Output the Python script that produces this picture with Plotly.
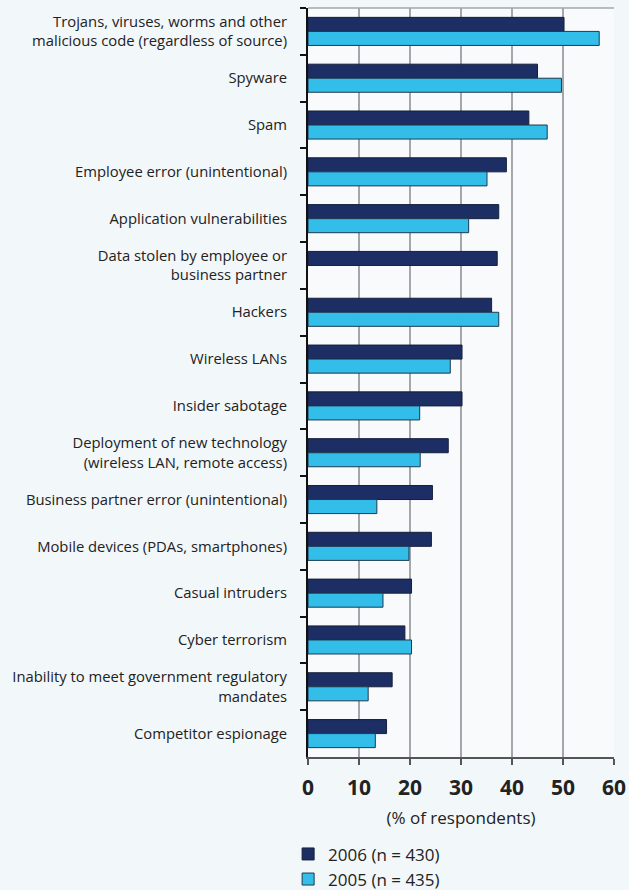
import plotly.graph_objects as go

categories = [
    "Trojans, viruses, worms and other<br>malicious code (regardless of source)",
    "Spyware",
    "Spam",
    "Employee error (unintentional)",
    "Application vulnerabilities",
    "Data stolen by employee or<br>business partner",
    "Hackers",
    "Wireless LANs",
    "Insider sabotage",
    "Deployment of new technology<br>(wireless LAN, remote access)",
    "Business partner error (unintentional)",
    "Mobile devices (PDAs, smartphones)",
    "Casual intruders",
    "Cyber terrorism",
    "Inability to meet government regulatory<br>mandates",
    "Competitor espionage",
]
values_2006 = [50.2, 45.0, 43.3, 38.9, 37.4, 37.1, 36.0, 30.2, 30.2, 27.5, 24.4, 24.2, 20.3, 19.0, 16.5, 15.4]
values_2005 = [57.1, 49.7, 46.9, 35.1, 31.5, None, 37.4, 27.9, 21.9, 22.0, 13.5, 19.8, 14.7, 20.3, 11.8, 13.2]
series_names = ["2006 (n = 430)", "2005 (n = 435)"]
x_ticks = [0, 10, 20, 30, 40, 50, 60]

DARK = "#1C2E64"
LIGHT = "#33BDE9"
FONT = "Open Sans"

fig = go.Figure()
fig.add_trace(go.Bar(
    y=categories, x=values_2006, orientation="h", name=series_names[0],
    marker=dict(color=DARK, line=dict(color="#15203A", width=1)),
))
fig.add_trace(go.Bar(
    y=categories, x=values_2005, orientation="h", name=series_names[1],
    marker=dict(color=LIGHT, line=dict(color="#1E3A50", width=1)),
))

fig.update_layout(
    width=629, height=890,
    margin=dict(l=308, r=15, t=8, b=133, autoexpand=False),
    paper_bgcolor="#F2F7FA",
    plot_bgcolor="#F8FAFC",
    barmode="group",
    bargap=0.4,
    bargroupgap=0,
    font=dict(family=FONT, color="#222222", size=14.8),
    showlegend=True,
    legend=dict(
        x=-0.065, xanchor="left", y=-0.106, yanchor="top",
        orientation="v", bgcolor="rgba(0,0,0,0)",
        font=dict(family=FONT, size=17, color="#222222"),
        tracegroupgap=0,
    ),
)

fig.update_xaxes(
    range=[0, 60], tickvals=x_ticks, automargin=False,
    showgrid=True, gridcolor="#A3A7AB", gridwidth=1.5,
    showline=True, linecolor="#555555", linewidth=1.5, mirror=False,
    ticks="outside", ticklen=6, tickcolor="#555555", tickwidth=1.5,
    tickfont=dict(family=FONT, size=21, color="#222222", weight="bold"),
    ticklabelstandoff=5,
    title=dict(text="(% of respondents)", font=dict(family=FONT, size=17, color="#222222"), standoff=12),
    zeroline=False,
)
fig.update_yaxes(
    type="category", autorange="reversed", automargin=False,
    showline=True, linecolor="#111111", linewidth=2,
    ticks="outside", tickson="boundaries", ticklen=6, tickcolor="#111111", tickwidth=1.5,
    ticklabelstandoff=16,
    tickfont=dict(family=FONT, size=14.8, color="#222222"),
    showgrid=False,
)

# top border of the plot area
fig.add_shape(type="line", xref="paper", yref="paper", x0=0, x1=1, y0=1, y1=1,
              line=dict(color="#A3A7AB", width=1.5))

fig.write_html(
    "out.html",
    config={"displayModeBar": False},
    post_script="document.body.style.margin='0px';document.body.style.background='#F2F7FA';",
)
